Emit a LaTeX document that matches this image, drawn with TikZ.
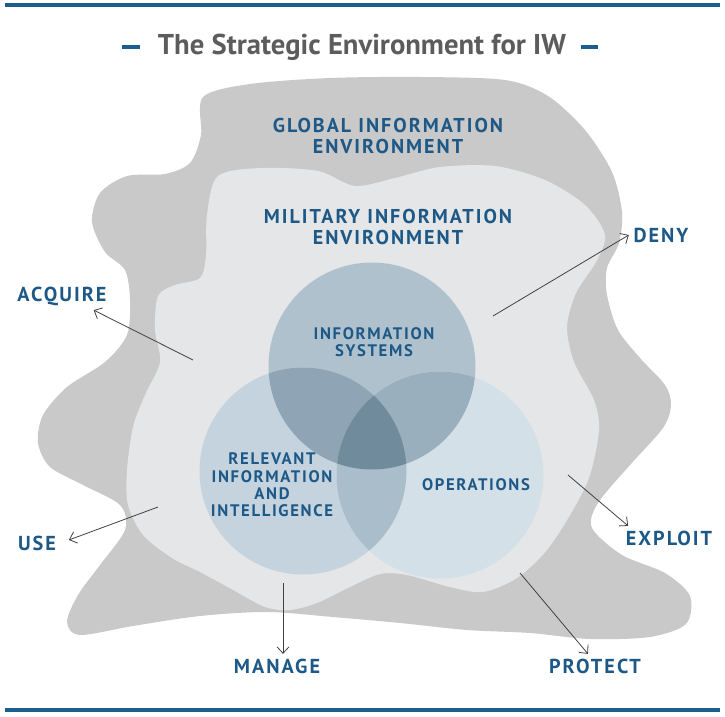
\documentclass[tikz,border=0pt]{standalone}
\usepackage{fontspec}
\setmainfont{PT Sans}
\newfontfamily\lblfont[LetterSpace=10]{PT Sans}
\usetikzlibrary{arrows.meta}
\definecolor{iwblue}{HTML}{1D5886}
\definecolor{rulblue}{HTML}{1B5E8E}
\definecolor{ttlgray}{HTML}{5C5C5C}
\definecolor{envgray}{HTML}{C9C9C9}
\definecolor{envlight}{HTML}{E5E6E7}
\tikzset{
  rul/.style={draw=rulblue,line width=2.3pt},
  tdash/.style={draw=rulblue,line width=2.3pt},
  ttl/.style={font=\bfseries\fontsize{16.3}{19}\selectfont,text=ttlgray,inner sep=0pt},
  gie/.style={fill=envgray},
  mie/.style={fill=envlight},
  % one fill for each region of the three circles
  vI/.style={fill={rgb,255:red,176;green,193;blue,206}},
  vR/.style={fill={rgb,255:red,196;green,211;blue,222}},
  vO/.style={fill={rgb,255:red,212;green,224;blue,232}},
  vIR/.style={fill={rgb,255:red,143;green,165;blue,181}},
  vIO/.style={fill={rgb,255:red,153;green,175;blue,190}},
  vRO/.style={fill={rgb,255:red,170;green,189;blue,202}},
  vIRO/.style={fill={rgb,255:red,112;green,139;blue,155}},
  lb/.style={font=\lblfont\bfseries\fontsize{11.5}{13}\selectfont,text=iwblue,inner sep=2.5pt},
  lbe/.style={font=\lblfont\bfseries\fontsize{11.4}{11.8}\selectfont,text=iwblue,align=center,inner sep=1pt},
  lbv/.style={font=\lblfont\bfseries\fontsize{9.5}{9.9}\selectfont,text=iwblue,align=center,inner sep=1pt},
  act/.style={-{Straight Barb[length=1.3mm,width=2.4mm]},draw=black!75,line width=.45pt},
}

\begin{document}
\begin{tikzpicture}[x=0.02cm,y=-0.02cm,radius=2.07cm]
\useasboundingbox (0,0) rectangle (725,717);
% rules and title
\draw[rul] (5,5) -- (720,5);
\draw[rul] (5,710) -- (720,710);
\node[ttl] (title) at (362,47) {The Strategic Environment for IW};
\draw[tdash] (122,47) -- (140,47);
\draw[tdash] (581,47) -- (598,47);
% global information environment
\fill[gie] plot[smooth cycle] coordinates {
  (203,97) (250,84) (330,78) (420,77) (505,80) (548,96) (585,130)
  (612,172) (622,212) (619,243) (607,268) (607,295) (618,330) (640,358)
  (665,385) (671,405) (663,428) (630,465) (598,503) (592,528) (622,555)
  (665,573) (690,596) (686,624) (650,637) (590,639) (530,633) (467,630)
  (400,623) (333,617) (267,612) (200,616) (133,626) (80,635) (67,622)
  (78,595) (100,565) (125,530) (120,505) (83,485) (50,467) (38,443)
  (43,415) (67,387) (105,362) (127,335) (130,300) (125,270) (105,252)
  (92,222) (100,193) (127,176) (165,174) (190,163) (201,135)};
% military information environment
\fill[mie] plot[smooth cycle] coordinates {
  (218,176) (262,168) (318,171) (355,186) (395,178) (440,167) (495,166)
  (545,180) (585,205) (605,235) (596,262) (576,293) (567,327) (574,362)
  (594,400) (599,430) (590,475) (573,510) (547,550) (517,578) (483,592)
  (450,587) (407,575) (380,574) (350,587) (317,603) (290,610) (265,607)
  (235,591) (200,572) (172,558) (143,535) (128,505) (127,470) (133,427)
  (145,395) (160,362) (155,330) (158,296) (175,285) (200,278) (206,255)
  (207,215)};
\node[lbe] (gienv) at (388,136) {GLOBAL INFORMATION\\ENVIRONMENT};
\node[lbe] (mienv) at (388,227) {MILITARY INFORMATION\\ENVIRONMENT};
% the three circles
\coordinate (cI) at (372,366);
\coordinate (cR) at (303,471);
\coordinate (cO) at (440,475);
\fill[vI] (cI) circle; \fill[vR] (cR) circle; \fill[vO] (cO) circle;
\begin{scope}
  \clip (cI) circle; \fill[vIR] (cR) circle; \fill[vIO] (cO) circle;
\end{scope}
\begin{scope}
  \clip (cR) circle; \fill[vRO] (cO) circle;
  \clip (cI) circle; \fill[vIRO] (cO) circle;
\end{scope}
\node[lbv] (isys) at (374,342) {INFORMATION\\SYSTEMS};
\node[lbv] (relinf) at (272,485) {RELEVANT\\INFORMATION\\AND\\INTELLIGENCE};
\node[lbv] (ops) at (476,485) {OPERATIONS};
% actions
\node[lb] (acquire) at (62,296) {ACQUIRE};
\node[lb] (deny) at (661,235) {DENY};
\node[lb] (use) at (37,543) {USE};
\node[lb] (exploit) at (669,538) {EXPLOIT};
\node[lb] (manage) at (277,666) {MANAGE};
\node[lb] (protect) at (595,666) {PROTECT};
\coordinate (sAcq) at (193,360);
\coordinate (sDeny) at (493,316);
\coordinate (sUse) at (158,507);
\coordinate (sExp) at (568,475);
\coordinate (sMan) at (283,583);
\coordinate (sPro) at (520,573);
\draw[act] (sAcq) -- ([xshift=-10pt]acquire.south east);
\draw[act] (sDeny) -- (deny.west);
\draw[act,shorten >=5pt] (sUse) -- (use.east);
\draw[act] (sExp) -- ([xshift=4pt]exploit.north west);
\draw[act] (sMan) -- (sMan |- manage.north);
\draw[act] (sPro) -- ([xshift=-4pt]protect.north);
\end{tikzpicture}
\end{document}
